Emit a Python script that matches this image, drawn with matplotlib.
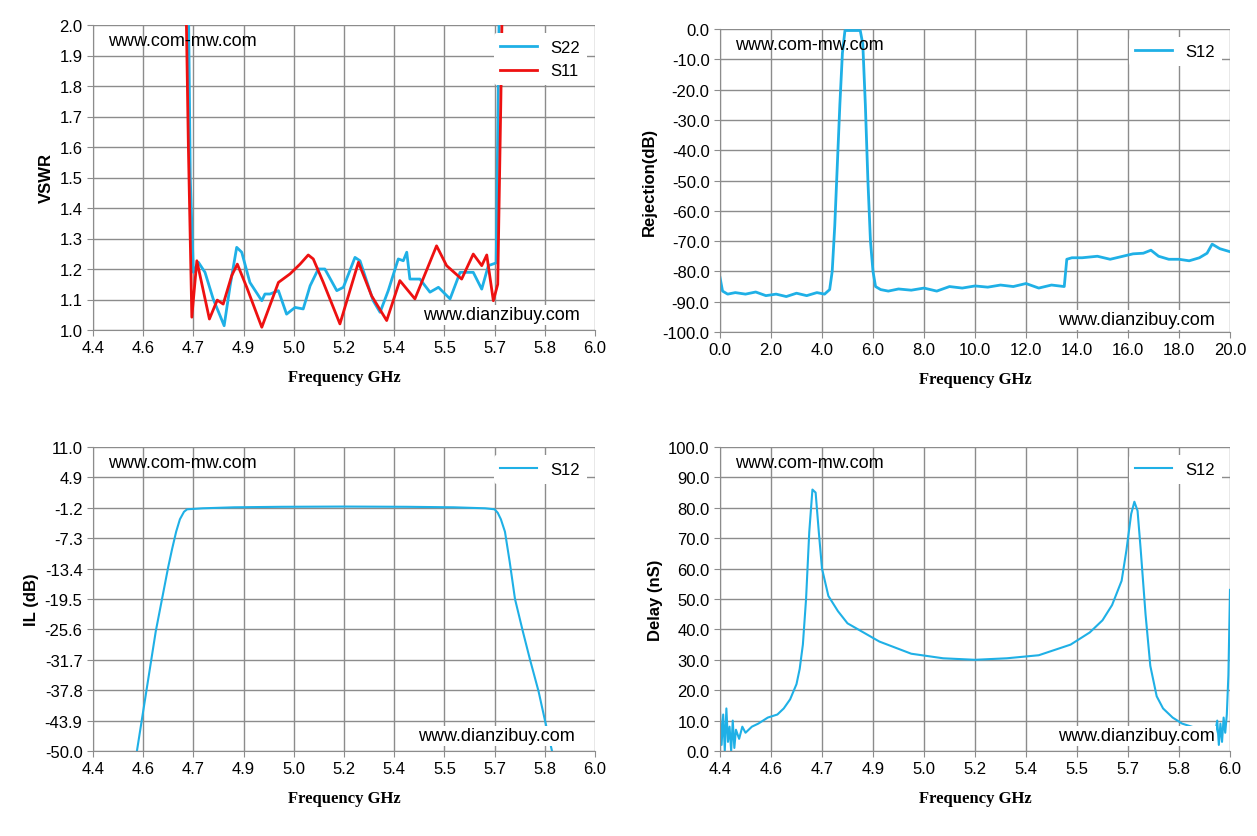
import numpy as np
import matplotlib
matplotlib.use("Agg")
import matplotlib.pyplot as plt
from matplotlib.ticker import FormatStrFormatter

# VSWR data
s11_f = [4.69,4.704,4.715,4.731,4.771,4.796,4.815,4.842,4.860,4.890,4.938,4.991,5.028,5.060,5.086,5.102,5.134,5.187,5.246,5.288,5.336,5.378,5.426,5.495,5.527,5.575,5.612,5.639,5.655,5.676,5.690,5.70,5.71]
s11_v = [2.5,1.6,1.042,1.227,1.036,1.098,1.085,1.178,1.216,1.140,1.009,1.156,1.184,1.216,1.246,1.233,1.156,1.020,1.222,1.112,1.031,1.162,1.102,1.276,1.211,1.167,1.249,1.211,1.246,1.096,1.15,1.76,2.5]
s22_f = [4.70,4.71,4.720,4.736,4.757,4.783,4.805,4.818,4.837,4.858,4.874,4.900,4.938,4.948,4.964,4.991,5.017,5.044,5.070,5.092,5.118,5.139,5.177,5.198,5.235,5.251,5.293,5.315,5.341,5.373,5.389,5.400,5.410,5.442,5.474,5.501,5.538,5.570,5.612,5.639,5.660,5.685,5.70]
s22_v = [2.5,1.5,1.189,1.222,1.189,1.102,1.047,1.014,1.145,1.271,1.255,1.156,1.096,1.118,1.118,1.129,1.052,1.074,1.069,1.145,1.200,1.200,1.129,1.140,1.238,1.227,1.096,1.058,1.129,1.233,1.227,1.255,1.167,1.167,1.124,1.140,1.102,1.189,1.189,1.134,1.211,1.22,2.5]

# Rejection data
rej_f = [0.0,0.1,0.3,0.6,1.0,1.4,1.8,2.2,2.6,3.0,3.4,3.8,4.1,4.3,4.4,4.5,4.6,4.7,4.8,4.9,5.2,5.5,5.6,5.7,5.8,5.9,6.0,6.1,6.3,6.6,7.0,7.5,8.0,8.5,9.0,9.5,10.0,10.5,11.0,11.5,12.0,12.5,13.0,13.5,13.6,13.8,14.2,14.8,15.3,15.8,16.2,16.6,16.9,17.2,17.6,18.0,18.4,18.8,19.1,19.3,19.6,20.0]
rej_v = [-82,-86.5,-87.5,-87,-87.5,-86.8,-88,-87.5,-88.3,-87.2,-88,-87,-87.5,-86,-80,-65,-45,-25,-8,-0.5,-0.5,-0.5,-5,-25,-50,-70,-80,-85,-86,-86.5,-85.8,-86.2,-85.5,-86.5,-85,-85.5,-84.8,-85.2,-84.5,-85,-84,-85.5,-84.5,-85,-76,-75.5,-75.5,-75,-76,-75,-74.2,-74,-73,-75,-76,-76,-76.5,-75.5,-74,-71,-72.5,-73.5]

# Insertion loss data
il_f = [4.540,4.57,4.60,4.62,4.64,4.652,4.665,4.677,4.69,4.70,4.75,4.85,5.0,5.2,5.4,5.55,5.65,5.680,5.690,5.700,5.713,5.728,5.745,5.77,5.793,5.82,5.841,5.863]
il_v = [-50,-38,-26,-19.5,-13,-9.5,-6,-3.5,-2,-1.5,-1.3,-1.1,-1.0,-0.95,-1.0,-1.1,-1.3,-1.5,-2.2,-3.5,-6,-12,-19.5,-26,-31.7,-38,-44,-50]

# Group delay data
gd_f = [4.40,4.405,4.41,4.415,4.42,4.425,4.43,4.435,4.44,4.445,4.45,4.46,4.47,4.48,4.50,4.52,4.55,4.58,4.60,4.62,4.64,4.65,4.66,4.67,4.68,4.69,4.70,4.71,4.72,4.74,4.77,4.80,4.85,4.90,5.00,5.10,5.20,5.30,5.40,5.50,5.56,5.60,5.63,5.66,5.675,5.69,5.70,5.71,5.72,5.735,5.75,5.77,5.79,5.82,5.85,5.88,5.91,5.93,5.95,5.96,5.965,5.97,5.975,5.98,5.985,5.99,5.995,6.00]
gd_v = [13,2,12,0,14,3,8,0,10,1,7,4,8,6,8,9,11,12,14,17,22,27,35,50,72,86,85,72,60,51,46,42,39,36,32,30.5,30,30.5,31.5,35,39,43,48,56,66,78,82,79,66,45,28,18,14,11,9,8,7,6,4,10,2,9,3,11,6,12,25,53]

plt.rcParams['font.family'] = ['Liberation Sans', 'DejaVu Sans']
fig = plt.figure(figsize=(12.57, 8.37), dpi=100)
W, H = 1257, 837

def mkax(x0, y0, x1, y1):
    ax = fig.add_axes([x0/W, 1-y1/H, (x1-x0)/W, (y1-y0)/H])
    ax.grid(True, color='#8c8c8c', lw=1)
    ax.set_axisbelow(True)
    for s in ['top', 'right']:
        ax.spines[s].set_visible(False)
    for s in ['left', 'bottom']:
        ax.spines[s].set_color('#8c8c8c')
    ax.tick_params(length=4, color='#8c8c8c', labelsize=12)
    return ax

blue = '#1fb0e6'
red = '#ee1111'
xl_font = dict(family='Liberation Serif', fontweight='bold', fontsize=12)
yl_font = dict(fontweight='bold', fontsize=12)
fticks = [4.4 + 0.16*k for k in range(11)]

def wm(ax, x2, y2):
    ax.text(0.03, 0.95, 'www.com-mw.com', transform=ax.transAxes, fontsize=13, va='center')
    ax.text(x2, y2, 'www.dianzibuy.com', transform=ax.transAxes, fontsize=13, va='center', ha='right',
            bbox=dict(facecolor='white', edgecolor='none', pad=1))

def leg(ax, **kw):
    lg = ax.legend(loc='upper right', frameon=True, fontsize=12, handlelength=2.2, **kw)
    lg.get_frame().set_edgecolor('none')
    lg.get_frame().set_facecolor('white')
    lg.get_frame().set_alpha(1)

# top-left
ax = mkax(93, 26, 595, 331)
ax.plot(s22_f, s22_v, color=blue, lw=2, label='S22')
ax.plot(s11_f, s11_v, color=red, lw=2, label='S11')
ax.set_xlim(4.4, 6.0); ax.set_ylim(1.0, 2.0)
ax.set_xticks(fticks); ax.set_yticks(np.arange(1.0, 2.01, 0.1))
ax.xaxis.set_major_formatter(FormatStrFormatter('%.1f'))
ax.yaxis.set_major_formatter(FormatStrFormatter('%.1f'))
ax.set_xlabel('Frequency GHz', labelpad=10, **xl_font)
ax.set_ylabel('VSWR', **yl_font)
wm(ax, 0.97, 0.05); leg(ax)

# top-right
ax = mkax(720, 30, 1230, 333)
ax.plot(rej_f, rej_v, color=blue, lw=2, label='S12')
ax.set_xlim(0, 20); ax.set_ylim(-100, 0)
ax.set_xticks(np.arange(0, 20.1, 2)); ax.set_yticks(np.arange(-100, 0.1, 10))
ax.xaxis.set_major_formatter(FormatStrFormatter('%.1f'))
ax.yaxis.set_major_formatter(FormatStrFormatter('%.1f'))
ax.set_xlabel('Frequency GHz', labelpad=10, **xl_font)
ax.set_ylabel('Rejection(dB)', **yl_font)
wm(ax, 0.97, 0.04); leg(ax)

# bottom-left
ax = mkax(93, 448, 595, 752)
ax.plot(il_f, il_v, color=blue, lw=1.5, label='S12')
ax.set_xlim(4.4, 6.0); ax.set_ylim(-50, 11)
ax.set_xticks(fticks); ax.set_yticks([11 - 6.1*k for k in range(11)])
ax.xaxis.set_major_formatter(FormatStrFormatter('%.1f'))
ax.yaxis.set_major_formatter(FormatStrFormatter('%.1f'))
ax.set_xlabel('Frequency GHz', labelpad=10, **xl_font)
ax.set_ylabel('IL (dB)', **yl_font)
wm(ax, 0.96, 0.05); leg(ax)

# bottom-right
ax = mkax(720, 448, 1230, 752)
ax.plot(gd_f, gd_v, color=blue, lw=1.5, label='S12')
ax.set_xlim(4.4, 6.0); ax.set_ylim(0, 100)
ax.set_xticks(fticks); ax.set_yticks(np.arange(0, 100.1, 10))
ax.xaxis.set_major_formatter(FormatStrFormatter('%.1f'))
ax.yaxis.set_major_formatter(FormatStrFormatter('%.1f'))
ax.set_xlabel('Frequency GHz', labelpad=10, **xl_font)
ax.set_ylabel('Delay (nS)', **yl_font)
wm(ax, 0.97, 0.05); leg(ax)

fig.savefig('out.png', dpi=100)
